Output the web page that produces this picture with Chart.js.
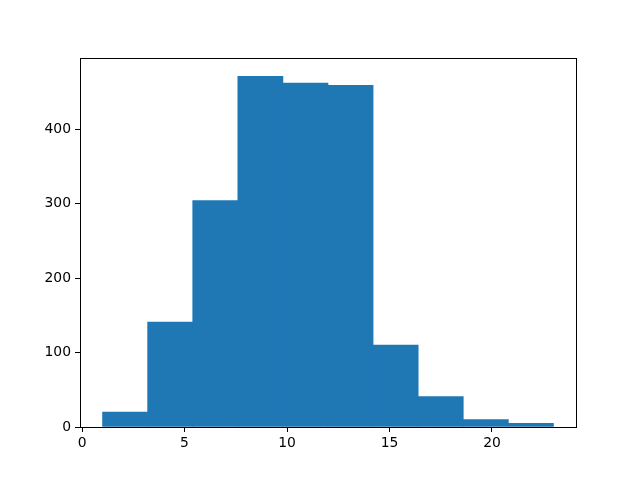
<!DOCTYPE html>
<html>
<head>
<meta charset="utf-8">
<script src="https://cdn.jsdelivr.net/npm/chart.js@4"></script>
<style>
  html, body { margin: 0; padding: 0; background: #fff; }
  #wrap { width: 640px; height: 480px; }
</style>
</head>
<body>
<div id="wrap"><canvas id="histChart" width="640" height="480"></canvas></div>
<script>
// Histogram: 10 equal bins between 1 and 23
const binEdges = [1, 3.2, 5.4, 7.6, 9.8, 12, 14.2, 16.4, 18.6, 20.8, 23];
const counts = [20, 141, 304, 471, 462, 459, 110, 41, 10, 5];
const xTicks = [0, 5, 10, 15, 20];
const yTicks = [0, 100, 200, 300, 400];

const BAR_COLOR = '#1f77b4';
const TICK_FONT = { family: 'DejaVu Sans', size: 13.9 };

const points = counts.map(function (c, i) {
    return { x: (binEdges[i] + binEdges[i + 1]) / 2, y: c };
});

// matplotlib style box around the plot area
const frame = {
    id: 'frame',
    afterDraw: function (chart) {
        const a = chart.chartArea;
        const ctx = chart.ctx;
        ctx.save();
        ctx.strokeStyle = '#000';
        ctx.lineWidth = 1;
        ctx.strokeRect(Math.round(a.left) + 0.5, Math.round(a.top) + 0.5,
            Math.round(a.right - a.left), Math.round(a.bottom - a.top));
        ctx.restore();
    }
};

new Chart(document.getElementById('histChart'), {
    type: 'bar',
    data: {
        datasets: [{
            data: points,
            backgroundColor: BAR_COLOR,
            borderWidth: 0,
            barPercentage: 1,
            categoryPercentage: 1
        }]
    },
    options: {
        responsive: false,
        animation: false,
        layout: { padding: { left: 0, right: 64, top: 58, bottom: 0 } },
        plugins: { legend: { display: false }, tooltip: { enabled: false } },
        scales: {
            x: {
                type: 'linear',
                min: -0.1,
                max: 24.1,
                offset: false,
                afterBuildTicks: function (scale) {
                    scale.ticks = xTicks.map(function (v) { return { value: v }; });
                },
                afterFit: function (scale) { scale.height = 53; },
                grid: { offset: false, drawOnChartArea: false, tickLength: 5, tickColor: '#000', color: '#000' },
                border: { display: false },
                ticks: { color: '#000', font: TICK_FONT, padding: 3, maxRotation: 0 }
            },
            y: {
                min: 0,
                max: 495.6,
                afterBuildTicks: function (scale) {
                    scale.ticks = yTicks.map(function (v) { return { value: v }; });
                },
                afterFit: function (scale) { scale.width = 80; },
                grid: { drawOnChartArea: false, tickLength: 5, tickColor: '#000', color: '#000' },
                border: { display: false },
                ticks: { color: '#000', font: TICK_FONT, padding: 4 }
            }
        }
    },
    plugins: [frame]
});
</script>
</body>
</html>
